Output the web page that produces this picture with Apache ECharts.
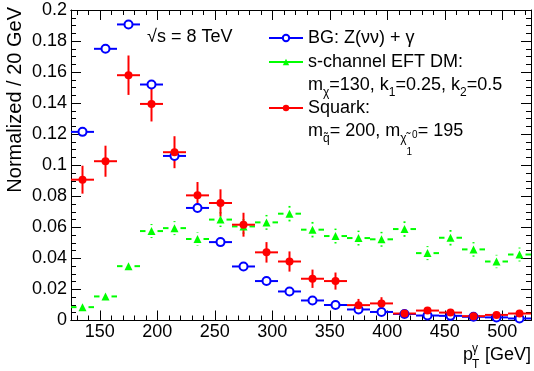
<!DOCTYPE html>
<html><head><meta charset="utf-8">
<script src="https://cdn.jsdelivr.net/npm/echarts@6/dist/echarts.min.js"></script>
<style>html,body{margin:0;padding:0;background:#fff}#c{width:534px;height:371px}</style>
</head><body><div id="c"></div>
<script>
// ---- data ----
const binCenters = [135,155,175,195,215,235,255,275,295,315,335,355,375,395,415,435,455,475,495,515];
const binWidth = 20;
const bgName = 'BG: Z(νν) + γ';
const dmName = 's-channel EFT DM:';
const sqName = 'Squark:';
const bgValues = [0.1215,0.175,0.1907,0.152,0.106,0.0725,0.0505,0.0348,0.0254,0.0187,0.0129,0.0100,0.0071,0.0055,0.0042,0.0032,0.0030,0.0024,0.0020,0.0013];
const bgErrors = [0.0010,0.0012,0.0012,0.0011,0.0009,0.0008,0.0007,0.0006,0.0005,0.0004,0.0004,0.0003,0.0003,0.0003,0.0002,0.0002,0.0002,0.0002,0.0002,0.0001];
const dmValues = [0.0086,0.0155,0.035,0.0576,0.0595,0.0525,0.065,0.0606,0.0632,0.0688,0.0585,0.0544,0.0531,0.0523,0.0589,0.0434,0.0533,0.0458,0.0380,0.0425];
const dmErrors = [0.002,0.0025,0.0038,0.0045,0.0045,0.0042,0.0048,0.0047,0.0048,0.005,0.005,0.0048,0.0048,0.0048,0.005,0.0045,0.005,0.0047,0.0043,0.0045];
const sqValues = [0.0907,0.1026,0.158,0.1395,0.1084,0.0806,0.0757,0.0617,0.0439,0.038,0.0269,0.0254,0.0099,0.011,0.0045,0.0064,0.0051,0.0028,0.0036,0.0045];
const sqErrors = [0.009,0.01,0.0127,0.0113,0.0103,0.0086,0.0088,0.0077,0.0066,0.0065,0.0059,0.0055,0.004,0.004,0.0016,0.002,0.002,0.0015,0.002,0.002];
const xMajorTicks = [150,200,250,300,350,400,450,500];
const xMinorTicks = [130,140,160,170,180,190,210,220,230,240,260,270,280,290,310,320,330,340,360,370,380,390,410,420,430,440,460,470,480,490,510,520];

// ---- styling ----
const F = 'Liberation Sans, Arial, sans-serif';
const BLUE = '#0000ff', GREEN = '#00ff00', RED = '#ff0000';

const chart = echarts.init(document.getElementById('c'), null, {renderer:'canvas'});

function markerSeries(name, color, vals, symbol, size) {
  return {
    type:'line', name, color, z:5,
    data: binCenters.map((x,i)=>[x, vals[i]]),
    symbol, symbolSize:size, showSymbol:true,
    lineStyle:{opacity:0},
    itemStyle:{color, borderWidth:1.5},
    emphasis:{disabled:true},
    animation:false
  };
}
function errorSeries(name, color, vals, errs, gap) {
  return {
    type:'custom', name, z:3, silent:true,
    data: binCenters.map((x,i)=>[x, vals[i], errs[i]]),
    renderItem(params, api) {
      const x = api.value(0), y = api.value(1), e = api.value(2);
      const c = api.coord([x, y]);
      const l = api.coord([x - binWidth/2, y]);
      const r = api.coord([x + binWidth/2, y]);
      const t = api.coord([x, y + e]);
      const b = api.coord([x, Math.max(0, y - e)]);
      const st = {stroke:color, lineWidth:2};
      const ch = [
        {type:'line', shape:{x1:l[0], y1:c[1], x2:c[0]-gap, y2:c[1]}, style:st},
        {type:'line', shape:{x1:c[0]+gap, y1:c[1], x2:r[0], y2:c[1]}, style:st}
      ];
      if (t[1] < c[1]-gap) ch.push({type:'line', shape:{x1:c[0], y1:t[1], x2:c[0], y2:c[1]-gap}, style:st});
      if (b[1] > c[1]+gap) ch.push({type:'line', shape:{x1:c[0], y1:c[1]+gap, x2:c[0], y2:b[1]}, style:st});
      return {type:'group', children:ch};
    },
    animation:false
  };
}

const xCommon = {type:'value', min:125, max:525, splitLine:{show:false},
  axisLine:{show:true, onZero:false, lineStyle:{color:'#000', width:1}}};
const yCommon = {type:'value', min:0, max:0.2, interval:0.02, splitLine:{show:false},
  axisLine:{show:true, onZero:false, lineStyle:{color:'#000', width:1}},
  minorTick:{show:true, splitNumber:4, length:5, lineStyle:{color:'#000'}},
  minorSplitLine:{show:false}};

const legendCommon = {orient:'horizontal', padding:0, itemWidth:34, itemHeight:8, selectedMode:false,
  textStyle:{fontSize:18, fontFamily:F, color:'#000'},
  lineStyle:{opacity:1, width:2}};

const n = {fontSize:18, fontFamily:F, color:'#000', height:18, verticalAlign:'top'};
const s = {fontSize:12, fontFamily:F, color:'#000', height:12, verticalAlign:'top', padding:[10,0,0,0]};
const ss = {fontSize:10, fontFamily:F, color:'#000', height:10, verticalAlign:'top', padding:[25,0,0,0]};
const sp = {fontSize:10, fontFamily:F, color:'#000', height:10, verticalAlign:'top', padding:[8,0,0,0]};

chart.setOption({
  animation:false,
  backgroundColor:'#fff',
  grid:{left:71, right:3, top:10, bottom:50.5, containLabel:false},
  xAxis:[
    Object.assign({}, xCommon, {position:'bottom',
      axisTick:{show:true, inside:true, length:10, customValues:xMajorTicks, lineStyle:{color:'#000'}},
      axisLabel:{show:true, customValues:xMajorTicks, fontSize:18, fontFamily:F, color:'#000', margin:3}}),
    Object.assign({}, xCommon, {position:'bottom',
      axisTick:{show:true, inside:true, length:5, customValues:xMinorTicks, lineStyle:{color:'#000'}},
      axisLabel:{show:false}}),
    Object.assign({}, xCommon, {position:'top',
      axisTick:{show:true, inside:true, length:10, customValues:xMajorTicks, lineStyle:{color:'#000'}},
      axisLabel:{show:false}}),
    Object.assign({}, xCommon, {position:'top',
      axisTick:{show:true, inside:true, length:5, customValues:xMinorTicks, lineStyle:{color:'#000'}},
      axisLabel:{show:false}})
  ],
  yAxis:[
    Object.assign({}, yCommon, {position:'left',
      axisTick:{show:true, inside:true, length:10, lineStyle:{color:'#000'}},
      axisLabel:{show:true, fontSize:18, fontFamily:F, color:'#000', margin:4}}),
    Object.assign({}, yCommon, {position:'right',
      axisTick:{show:true, inside:true, length:10, lineStyle:{color:'#000'}},
      axisLabel:{show:false}})
  ],
  legend:[
    Object.assign({}, legendCommon, {data:[bgName], left:268, top:29}),
    Object.assign({}, legendCommon, {data:[dmName], left:268, top:53}),
    Object.assign({}, legendCommon, {data:[sqName], left:268, top:99})
  ],
  series:[
    markerSeries(bgName, BLUE, bgValues, 'emptyCircle', 8),
    markerSeries(dmName, GREEN, dmValues, 'triangle', 8),
    markerSeries(sqName, RED, sqValues, 'circle', 8),
    errorSeries(bgName, BLUE, bgValues, bgErrors, 0),
    errorSeries(dmName, GREEN, dmValues, dmErrors, 6),
    errorSeries(sqName, RED, sqValues, sqErrors, 0)
  ],
  graphic:[
    {type:'text', x:15, y:7, rotation:Math.PI/2,
      style:{text:'Normalized / 20 GeV', fontSize:20, fontFamily:F, fill:'#000', align:'right', verticalAlign:'middle'}},
    {type:'text', x:147, y:37,
      style:{text:'√s = 8 TeV', fontSize:18, fontFamily:F, fill:'#000', align:'left', verticalAlign:'middle'}},
    {type:'text', x:308, y:76.5,
      style:{text:'{n|m}{s|χ}{n|=130, k}{s|1}{n|=0.25, k}{s|2}{n|=0.5}', verticalAlign:'top', align:'left',
        rich:{n, s}}},
    {type:'text', x:308, y:122.5,
      style:{text:'{n|m}{s|q̃}{n|= 200, m}{s|χ̃}{ss|1}{sp|0}{n|= 195}', verticalAlign:'top', align:'left',
        rich:{n, s, ss, sp}}},
    {type:'text', x:531, y:355,
      style:{text:'[GeV]', fontSize:18, fontFamily:F, fill:'#000', align:'right', verticalAlign:'middle'}},
    {type:'text', x:463, y:355,
      style:{text:'p', fontSize:18, fontFamily:F, fill:'#000', align:'left', verticalAlign:'middle'}},
    {type:'text', x:472, y:349,
      style:{text:'γ', fontSize:12, fontFamily:F, fill:'#000', align:'left', verticalAlign:'middle'}},
    {type:'text', x:472, y:365,
      style:{text:'T', fontSize:12, fontFamily:F, fill:'#000', align:'left', verticalAlign:'middle'}}
  ]
});
</script></body></html>
